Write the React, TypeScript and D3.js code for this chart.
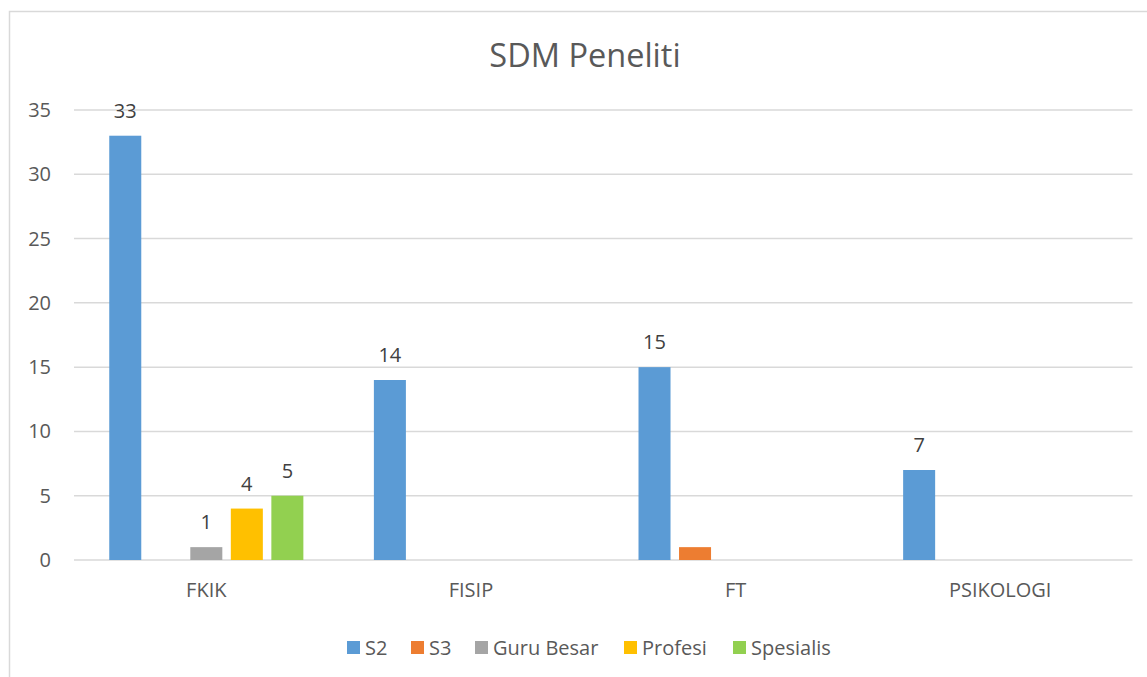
import { useEffect, useRef } from 'react';
import * as d3 from 'd3';

const categories = ['FKIK', 'FISIP', 'FT', 'PSIKOLOGI'];
const seriesNames = ['S2', 'S3', 'Guru Besar', 'Profesi', 'Spesialis'];
const s2 = [33, 14, 15, 7];
const s3 = [null, null, 1, null];
const guruBesar = [1, null, null, null];
const profesi = [4, null, null, null];
const spesialis = [5, null, null, null];
const yTicks = [0, 5, 10, 15, 20, 25, 30, 35];
// which series show value labels (S3 has none in the source)
const showLabels = [true, false, true, true, true];

const colors = ['#5B9BD5', '#ED7D31', '#A5A5A5', '#FFC000', '#92D050'];
const FONT = '"Open Sans", "Noto Sans", sans-serif';

export default function App() {
  const svgRef = useRef<SVGSVGElement>(null);

  useEffect(() => {
    if (!svgRef.current) return;
    const svg = d3.select(svgRef.current);
    svg.selectAll('*').remove();

    const width = 1147;
    const margin = { left: 74, right: 14.5 };
    const yTop = 110;
    const yBottom = 560;
    const series = [s2, s3, guruBesar, profesi, spesialis];

    // chart border
    svg.append('rect')
      .attr('x', 9.5)
      .attr('y', 11.5)
      .attr('width', 1200)
      .attr('height', 700)
      .attr('fill', 'white')
      .attr('stroke', '#d9d9d9')
      .attr('stroke-width', 1.5);

    const x0 = d3.scaleBand<string>()
      .domain(categories)
      .range([margin.left, width - margin.right])
      .padding(0);

    const x1 = d3.scaleBand<string>()
      .domain(seriesNames)
      .range([0, x0.bandwidth()])
      .paddingInner(0.21)
      .paddingOuter(0.87);

    const y = d3.scaleLinear().domain([0, 35]).range([yBottom, yTop]);

    // gridlines
    svg.append('g')
      .selectAll('line')
      .data(yTicks)
      .join('line')
      .attr('x1', margin.left)
      .attr('x2', width - margin.right)
      .attr('y1', (d) => y(d))
      .attr('y2', (d) => y(d))
      .attr('stroke', '#d9d9d9')
      .attr('stroke-width', 1.5);

    // y tick labels
    svg.append('g')
      .selectAll('text')
      .data(yTicks)
      .join('text')
      .attr('x', 51)
      .attr('y', (d) => y(d))
      .attr('dy', '0.35em')
      .attr('text-anchor', 'end')
      .attr('font-family', FONT)
      .attr('font-size', 20)
      .attr('fill', '#595959')
      .text((d) => d);

    // bars
    series.forEach((vals, si) => {
      const g = svg.append('g');
      categories.forEach((cat, ci) => {
        const v = vals[ci];
        if (v == null) return;
        const bx = (x0(cat) || 0) + (x1(seriesNames[si]) || 0);
        g.append('rect')
          .attr('x', bx)
          .attr('y', y(v))
          .attr('width', x1.bandwidth())
          .attr('height', y(0) - y(v))
          .attr('fill', colors[si]);
        if (showLabels[si]) {
          g.append('text')
            .attr('x', bx + x1.bandwidth() / 2)
            .attr('y', y(v) - 18)
            .attr('text-anchor', 'middle')
            .attr('font-family', FONT)
            .attr('font-size', 20)
            .attr('fill', '#404040')
            .text(v);
        }
      });
    });

    // category labels
    svg.append('g')
      .selectAll('text')
      .data(categories)
      .join('text')
      .attr('x', (d) => (x0(d) || 0) + x0.bandwidth() / 2)
      .attr('y', 597)
      .attr('text-anchor', 'middle')
      .attr('font-family', FONT)
      .attr('font-size', 20)
      .attr('fill', '#595959')
      .text((d) => d);

    // title
    svg.append('text')
      .attr('x', 585)
      .attr('y', 67)
      .attr('text-anchor', 'middle')
      .attr('font-family', FONT)
      .attr('font-size', 32.5)
      .attr('fill', '#595959')
      .text('SDM Peneliti');

    // legend
    const legendX = [347, 411, 475, 624, 733];
    const legend = svg.append('g');
    seriesNames.forEach((name, i) => {
      legend.append('rect')
        .attr('x', legendX[i])
        .attr('y', 641)
        .attr('width', 13)
        .attr('height', 13)
        .attr('fill', colors[i]);
      legend.append('text')
        .attr('x', legendX[i] + 18)
        .attr('y', 647.5)
        .attr('dy', '0.35em')
        .attr('font-family', FONT)
        .attr('font-size', 20)
        .attr('fill', '#595959')
        .text(name);
    });
  }, []);

  return (
    <svg
      ref={svgRef}
      width={1147}
      height={677}
      style={{ position: 'absolute', left: 0, top: 0, background: 'white' }}
    />
  );
}
